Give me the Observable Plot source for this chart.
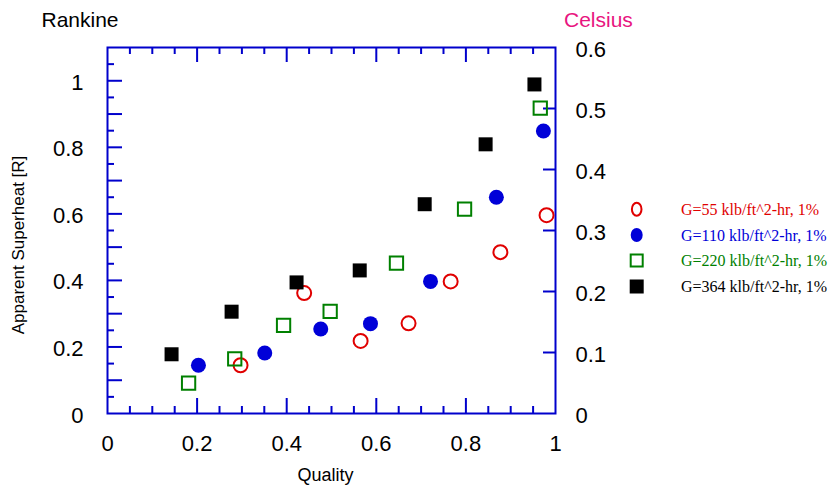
<!DOCTYPE html>
<html><head><meta charset="utf-8">
<script src="https://cdn.jsdelivr.net/npm/d3@7"></script>
<script src="https://cdn.jsdelivr.net/npm/@observablehq/plot@0.6"></script>
<style>
body{margin:0;background:#fff;}
#wrap{position:relative;width:829px;height:487px;}
</style></head><body><div id="wrap"></div>
<script>
// ---- data ----
const seriesNames = ["G=55 klb/ft^2-hr, 1%", "G=110 klb/ft^2-hr, 1%", "G=220 klb/ft^2-hr, 1%", "G=364 klb/ft^2-hr, 1%"];
const seriesColors = ["#e00000", "#0000d8", "#008000", "#000000"];

const quality55  = [0.297, 0.439, 0.565, 0.672, 0.766, 0.877, 0.980];
const superheat55 = [0.145, 0.362, 0.218, 0.271, 0.397, 0.485, 0.596];

const quality110  = [0.203, 0.351, 0.476, 0.587, 0.721, 0.868, 0.973];
const superheat110 = [0.145, 0.182, 0.254, 0.270, 0.397, 0.650, 0.849];

const quality220  = [0.181, 0.284, 0.393, 0.497, 0.645, 0.797, 0.966];
const superheat220 = [0.091, 0.164, 0.265, 0.307, 0.452, 0.614, 0.918];

const quality364  = [0.143, 0.277, 0.422, 0.563, 0.708, 0.844, 0.953];
const superheat364 = [0.178, 0.306, 0.394, 0.430, 0.629, 0.809, 0.989];

const xTickLabels = [0, 0.2, 0.4, 0.6, 0.8, 1];
const xMajorTicks = [0.2, 0.4, 0.6, 0.8];
const xMinorTicks = [0.05, 0.1, 0.15, 0.25, 0.3, 0.35, 0.45, 0.5, 0.55, 0.65, 0.7, 0.75, 0.85, 0.9, 0.95];
const yLeftLabels = [0, 0.2, 0.4, 0.6, 0.8, 1];
const yLeftMajorTicks = [0.1, 0.2, 0.3, 0.4, 0.5, 0.6, 0.7, 0.8, 0.9, 1.0];
const yLeftMinorTicks = [0.05, 0.15, 0.25, 0.35, 0.45, 0.55, 0.65, 0.75, 0.85, 0.95, 1.05];
const yRightLabels = [0, 0.1, 0.2, 0.3, 0.4, 0.5, 0.6];
const yRightTicks = [0.1, 0.2, 0.3, 0.4, 0.5];

const xLabel = "Quality";
const yLeftTitle = "Rankine";
const yRightTitle = "Celsius";
const yAxisLabel = "Apparent Superheat [R]";

// ---- build ----
const W = 829, H = 487, mL = 107, mR = 274, mT = 47, mB = 74;
const innerW = W - mL - mR, innerH = H - mT - mB;
const axisColor = "#0000cc";
const rightMax = 0.6, leftMax = 1.1;
const toLeft = c => c * leftMax / rightMax;

const mk = (q, s) => q.map((x, i) => ({q: x, s: s[i]}));
const d55 = mk(quality55, superheat55), d110 = mk(quality110, superheat110),
      d220 = mk(quality220, superheat220), d364 = mk(quality364, superheat364);

const chart = Plot.plot({
  width: W, height: H,
  marginLeft: mL, marginRight: mR, marginTop: mT, marginBottom: mB,
  x: {domain: [0, 1], axis: null},
  y: {domain: [0, leftMax], axis: null},
  style: {fontFamily: "'Liberation Sans', Arial, sans-serif", background: "white", color: "black"},
  marks: [
    // bottom ticks (inward)
    Plot.tickX(xMajorTicks, {x: d => d, stroke: axisColor, strokeWidth: 2, insetTop: innerH - 15}),
    Plot.tickX(xMinorTicks, {x: d => d, stroke: axisColor, strokeWidth: 2, insetTop: innerH - 7}),
    // top ticks
    Plot.tickX(xMajorTicks, {x: d => d, stroke: axisColor, strokeWidth: 2, insetBottom: innerH - 15}),
    Plot.tickX(xMinorTicks, {x: d => d, stroke: axisColor, strokeWidth: 2, insetBottom: innerH - 7}),
    // left ticks
    Plot.tickY(yLeftMajorTicks, {y: d => d, stroke: axisColor, strokeWidth: 2, insetRight: innerW - 15}),
    Plot.tickY(yLeftMinorTicks, {y: d => d, stroke: axisColor, strokeWidth: 2, insetRight: innerW - 7}),
    // right ticks
    Plot.tickY(yRightTicks, {y: d => toLeft(d), stroke: axisColor, strokeWidth: 2, insetLeft: innerW - 12}),
    Plot.frame({stroke: axisColor, strokeWidth: 2}),
    // tick labels
    Plot.text(xTickLabels, {x: d => d, text: d => String(d), frameAnchor: "bottom", dy: 37, fontSize: 22, fill: "black"}),
    Plot.text(yLeftLabels, {y: d => d, text: d => String(d), frameAnchor: "left", dx: -24, dy: 2, textAnchor: "end", fontSize: 22, fill: "black"}),
    Plot.text(yRightLabels, {y: d => toLeft(d), text: d => String(d), frameAnchor: "right", dx: 20, dy: 2, textAnchor: "start", fontSize: 22, fill: "black"}),
    // data
    Plot.dot(d55, {x: "q", y: "s", r: 7, stroke: seriesColors[0], strokeWidth: 2, fill: "none"}),
    Plot.dot(d110, {x: "q", y: "s", r: 7.5, fill: seriesColors[1], stroke: "none"}),
    Plot.dot(d220, {x: "q", y: "s", symbol: "square", r: 7.5, stroke: seriesColors[2], strokeWidth: 2, fill: "none"}),
    Plot.dot(d364, {x: "q", y: "s", symbol: "square", r: 7.9, fill: seriesColors[3], stroke: "none"})
  ]
});
document.getElementById("wrap").appendChild(chart);

const svg = d3.select(chart);
const font = "'Liberation Sans', Arial, sans-serif";
svg.append("text").attr("x", 41.5).attr("y", 27).attr("text-anchor", "start").attr("font-size", 21).attr("font-family", font)
  .attr("fill", "black").text(yLeftTitle);
svg.append("text").attr("x", 564).attr("y", 27).attr("text-anchor", "start").attr("font-size", 21).attr("font-family", font)
  .attr("fill", "#e8157f").text(yRightTitle);
svg.append("text").attr("x", 325.5).attr("y", 481).attr("text-anchor", "middle").attr("font-size", 18)
  .attr("font-family", font).attr("fill", "black").text(xLabel);
svg.append("text").attr("transform", "translate(24,245) rotate(-90)").attr("text-anchor", "middle")
  .attr("font-size", 17).attr("font-family", font).attr("fill", "black").text(yAxisLabel);

// legend
const lg = svg.append("g");
const rowY = [209.3, 235, 260.5, 286.5];
seriesNames.forEach((name, i) => {
  const cx = 636.7, cy = rowY[i], c = seriesColors[i];
  if (i === 0) lg.append("ellipse").attr("cx", cx).attr("cy", cy).attr("rx", 4.8).attr("ry", 6.5)
      .attr("fill", "none").attr("stroke", c).attr("stroke-width", 2);
  if (i === 1) lg.append("ellipse").attr("cx", cx).attr("cy", cy).attr("rx", 6).attr("ry", 7).attr("fill", c);
  if (i === 2) lg.append("rect").attr("x", cx - 6).attr("y", cy - 6).attr("width", 12).attr("height", 12)
      .attr("fill", "none").attr("stroke", c).attr("stroke-width", 2);
  if (i === 3) lg.append("rect").attr("x", cx - 7).attr("y", cy - 7).attr("width", 14).attr("height", 14).attr("fill", c);
  lg.append("text").attr("x", 681).attr("y", cy + 5.5).attr("text-anchor", "start").attr("font-size", 16)
    .attr("font-family", "'Liberation Serif', 'Times New Roman', serif").attr("fill", c).text(name);
});
</script></body></html>
